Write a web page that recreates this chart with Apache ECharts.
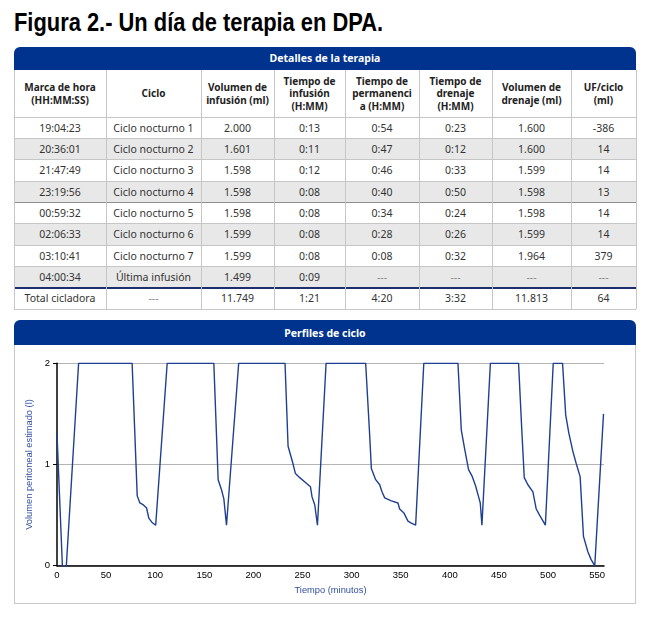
<!DOCTYPE html>
<html><head><meta charset="utf-8">
<script src="https://cdn.jsdelivr.net/npm/echarts@6/dist/echarts.min.js"></script>
<style>
html,body{margin:0;padding:0;background:#fff;width:651px;height:619px;overflow:hidden;position:relative;font-family:"Noto Sans",sans-serif;}
#title{position:absolute;left:13.5px;top:10px;font:bold 25px/25px "Liberation Sans",Arial,sans-serif;color:#000;white-space:nowrap;transform:scaleX(0.875);transform-origin:0 0;}
.bar{position:absolute;left:14px;width:622px;background:#00338d;color:#fff;font-weight:bold;font-size:10.5px;text-align:center;border-radius:6px 6px 0 0;}
.cell{position:absolute;box-sizing:border-box;display:flex;align-items:center;justify-content:center;text-align:center;color:#333;font-size:10.5px;white-space:nowrap;}
.hcell{font-weight:bold;color:#222;font-size:10px;line-height:12.5px;white-space:normal;}
.ln{position:absolute;}
#panel{position:absolute;left:14px;top:345px;width:622px;height:259px;box-sizing:border-box;border:1px solid #c8c8c8;border-top:none;}
#chart{position:absolute;left:0;top:345px;width:651px;height:274px;}
</style></head>
<body>
<div id="title">Figura 2.- Un día de terapia en DPA.</div>
<div class="bar" style="top:47px;height:23px;line-height:23px;">Detalles de la terapia</div>
<div id="table"></div>
<div class="bar" style="top:320px;height:25px;line-height:26px;">Perfiles de ciclo</div>
<div id="panel"></div>
<div id="chart"></div>
<script>
// ---- table data ----
var headers = ["Marca de hora<br>(HH:MM:SS)", "Ciclo", "Volumen de<br>infusión (ml)", "Tiempo de<br>infusión<br>(H:MM)", "Tiempo de<br>permanenci<br>a (H:MM)", "Tiempo de<br>drenaje<br>(H:MM)", "Volumen de<br>drenaje (ml)", "UF/ciclo<br>(ml)"];
var timestamps   = ["19:04:23","20:36:01","21:47:49","23:19:56","00:59:32","02:06:33","03:10:41","04:00:34","Total cicladora"];
var cycleNames   = ["Ciclo nocturno 1","Ciclo nocturno 2","Ciclo nocturno 3","Ciclo nocturno 4","Ciclo nocturno 5","Ciclo nocturno 6","Ciclo nocturno 7","Última infusión","---"];
var infusionVol  = ["2.000","1.601","1.598","1.598","1.598","1.599","1.599","1.499","11.749"];
var infusionTime = ["0:13","0:11","0:12","0:08","0:08","0:08","0:08","0:09","1:21"];
var dwellTime    = ["0:54","0:47","0:46","0:40","0:34","0:28","0:08","---","4:20"];
var drainTime    = ["0:23","0:12","0:33","0:50","0:24","0:26","0:32","---","3:32"];
var drainVol     = ["1.600","1.600","1.599","1.598","1.598","1.599","1.964","---","11.813"];
var ufCycle      = ["-386","14","14","13","14","14","379","---","64"];

// ---- chart data (minutes, litres) ----
var timeMin = [0,5.5,9.5,22,76.5,81.7,84.4,88,91.2,93.5,96.5,100.5,
  112.2,159.7,164.1,167.5,169.9,172.6,
  185,232.2,235.3,239.7,242.8,247.2,253.3,258.1,259.7,262.5,265.2,
  274,314.3,318.4,320.1,324.5,328.6,330.9,333.7,340.5,347.2,348.9,353.3,357.4,360.8,365.2,
  373.5,408.3,411.7,415,419.1,422.9,426.2,427.5,429.6,431,432.7,
  441.3,470,473.4,475.8,479.5,484.6,488,491.4,497.3,
  505.3,514.8,518,521.2,525.3,528.7,532.7,536.1,540.5,543.9,547.6,556.5];
var volumeL = [1.30,0,0,2,2,0.69,0.62,0.60,0.57,0.47,0.43,0.40,
  2,2,0.85,0.75,0.66,0.40,
  2,2,1.18,1.03,0.91,0.87,0.82,0.78,0.68,0.60,0.40,
  2,2,1.29,0.96,0.85,0.80,0.73,0.67,0.64,0.62,0.56,0.52,0.44,0.42,0.40,
  2,2,1.34,1.16,0.95,0.88,0.79,0.78,0.67,0.62,0.40,
  2,2,1.32,0.87,0.80,0.73,0.56,0.50,0.40,
  2,2,1.49,1.31,1.13,1.01,0.88,0.29,0.14,0.06,0,1.50];
var xTicks = [0,50,100,150,200,250,300,350,400,450,500,550];
var yTicks = [0,1,2];

// ---- build table ----
(function(){
  var t = document.getElementById('table');
  var colEdges = [14,106,201,274,345,419,492,571,636];
  var headTop = 70, headBot = 117, rowH = 21.35, nRows = 9;
  var cols = [timestamps,cycleNames,infusionVol,infusionTime,dwellTime,drainTime,drainVol,ufCycle];
  var html = '';
  for (var r=0;r<nRows;r++){
    if (r%2===1 && r<8) {
      html += '<div class="ln" style="left:14px;width:622px;top:'+(headBot+r*rowH)+'px;height:'+rowH+'px;background:#e8e8e8"></div>';
    }
  }
  for (var c=0;c<8;c++){
    var l = colEdges[c], w = colEdges[c+1]-colEdges[c];
    html += '<div class="cell hcell" style="left:'+l+'px;width:'+w+'px;top:'+headTop+'px;height:'+(headBot-headTop)+'px">'+headers[c]+'</div>';
    for (var r2=0;r2<nRows;r2++){
      var v = cols[c][r2];
      var col = v==='---' ? '#888' : '#333';
      html += '<div class="cell" style="left:'+l+'px;width:'+w+'px;top:'+(headBot+r2*rowH)+'px;height:'+rowH+'px;color:'+col+'">'+v+'</div>';
    }
  }
  for (var i=0;i<=nRows;i++){
    var y = headBot+i*rowH;
    var colr = '#c6c6c6', h = 1;
    if (i===8){ colr='#1b2f6e'; h=1.5; }
    if (i===4){ colr='#8e8e8e'; }
    html += '<div class="ln" style="left:14px;width:622px;top:'+(y-0.5)+'px;height:'+h+'px;background:'+colr+'"></div>';
  }
  for (var k=0;k<colEdges.length;k++){
    html += '<div class="ln" style="left:'+(colEdges[k]-0.5)+'px;width:1px;top:70px;height:'+(headBot+nRows*rowH-70)+'px;background:#c6c6c6"></div>';
  }
  t.innerHTML = html;
})();

// ---- chart ----
var chart = echarts.init(document.getElementById('chart'), null, {renderer:'canvas'});
var seriesData = timeMin.map(function(t,i){ return [t, volumeL[i]]; });
chart.setOption({
  animation:false,
  backgroundColor:'transparent',
  grid:{left:57, top:18.3, width:547, height:202.4, containLabel:false},
  xAxis:{
    type:'value', min:0, max:557, interval:50,
    name:'Tiempo (minutos)', nameLocation:'middle', nameGap:20,
    nameTextStyle:{color:'#2f4f9f', fontSize:9.3, fontFamily:'Liberation Sans, Arial, sans-serif'},
    axisLine:{show:true, lineStyle:{color:'#000', width:1.5}},
    axisTick:{show:false},
    axisLabel:{color:'#000', fontSize:9.5, fontFamily:'Liberation Sans, Arial, sans-serif', margin:5, showMaxLabel:false,
      formatter:function(v){ return xTicks.indexOf(v)>=0 ? String(v) : ''; }},
    splitLine:{show:false}
  },
  yAxis:{
    type:'value', min:0, max:2, interval:1,
    name:'Volumen peritoneal estimado (l)', nameLocation:'middle', nameGap:19,
    nameTextStyle:{color:'#2f4f9f', fontSize:9.3, fontFamily:'Liberation Sans, Arial, sans-serif'},
    axisLine:{show:true, lineStyle:{color:'#000', width:1.5}},
    axisTick:{show:true, length:4, lineStyle:{color:'#000', width:1}},
    axisLabel:{color:'#000', fontSize:9.5, fontFamily:'Liberation Sans, Arial, sans-serif', margin:7,
      formatter:function(v){ return yTicks.indexOf(v)>=0 ? String(v) : ''; }},
    splitLine:{show:true, lineStyle:{color:'#b4b4b4', width:1}}
  },
  series:[{
    type:'line', data:seriesData, showSymbol:false, symbol:'none',
    lineStyle:{color:'#1f3f91', width:1.4}
  }]
});
</script>
</body></html>
